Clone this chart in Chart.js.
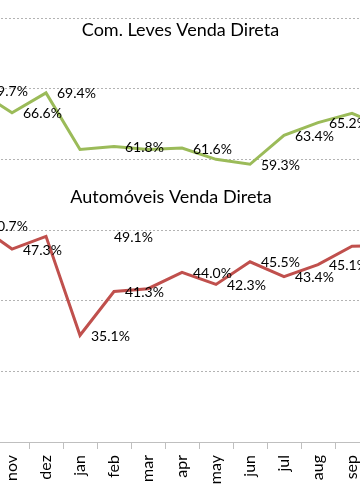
<!DOCTYPE html>
<html>
<head>
<meta charset="utf-8">
<script src="https://cdn.jsdelivr.net/npm/chart.js@4"></script>
<style>
  html, body { margin: 0; padding: 0; background: #fff; }
  #wrap { position: relative; width: 360px; height: 504px; overflow: hidden; }
  #c { position: absolute; left: -39px; top: 0; }
</style>
</head>
<body>
<div id="wrap"><canvas id="c" width="442" height="504"></canvas></div>
<script>
// ---- data ----
const months = ['oct', 'nov', 'dez', 'jan', 'feb', 'mar', 'apr', 'may', 'jun', 'jul', 'aug', 'sep', 'oct'];
const comLevesVendaDireta = [69.7, 66.6, 69.4, 61.4, 61.8, 61.4, 61.6, 60.0, 59.3, 63.4, 65.2, 66.5, 64.5];
const automoveisVendaDireta = [50.7, 47.3, 49.1, 35.1, 41.3, 41.7, 44.0, 42.3, 45.5, 43.4, 45.1, 47.7, 47.8];
const yTicks = [20, 30, 40, 50, 60, 70, 80];
const seriesTitles = ['Com. Leves Venda Direta', 'Automóveis Venda Direta'];
// labels shown in the picture (indexes)
const shownLabels = [
  [0, 1, 2, 4, 6, 8, 9, 10],
  [0, 1, 2, 3, 4, 6, 7, 8, 9, 10]
];

const CANVAS_SHIFT = 39;

const labelPlugin = {
  id: 'pointLabels',
  afterDatasetsDraw(chart) {
    const ctx = chart.ctx;
    ctx.save();
    ctx.font = '14px Lato';
    ctx.fillStyle = '#000';
    ctx.textAlign = 'left';
    ctx.textBaseline = 'middle';
    chart.data.datasets.forEach((ds, di) => {
      const meta = chart.getDatasetMeta(di);
      meta.data.forEach((pt, i) => {
        if (!shownLabels[di].includes(i)) return;
        let dx = 11, dy = 1;
        if (di === 1 && i === 2) { dx = 68; dy = 1; }
        ctx.fillText(ds.data[i].toFixed(1) + '%', pt.x + dx, pt.y + dy);
      });
    });
    // titles
    ctx.font = '18px Lato';
    ctx.textAlign = 'center';
    ctx.textBaseline = 'alphabetic';
    ctx.fillText(seriesTitles[0], 180.5 + CANVAS_SHIFT, 36);
    ctx.fillText(seriesTitles[1], 171 + CANVAS_SHIFT, 203);
    ctx.restore();
  }
};

new Chart(document.getElementById('c'), {
  type: 'line',
  data: {
    labels: months,
    datasets: [
      { label: seriesTitles[0], data: comLevesVendaDireta, borderColor: '#9BBB59', borderWidth: 3, pointRadius: 0, tension: 0, fill: false },
      { label: seriesTitles[1], data: automoveisVendaDireta, borderColor: '#C0504D', borderWidth: 3, pointRadius: 0, tension: 0, fill: false }
    ]
  },
  options: {
    responsive: false,
    animation: false,
    devicePixelRatio: 1,
    layout: { padding: { top: 18, left: 0, right: 0, bottom: 0 } },
    plugins: { legend: { display: false }, tooltip: { enabled: false }, title: { display: false } },
    scales: {
      x: {
        offset: true,
        grid: { offset: true, drawOnChartArea: false, drawTicks: true, tickLength: 7, color: '#bfbfbf' },
        border: { display: true, color: '#bfbfbf', width: 1 },
        ticks: { minRotation: 90, maxRotation: 90, autoSkip: false, padding: 6, color: '#000', font: { family: 'Lato', size: 16 } },
        afterFit(s) { s.paddingLeft = 0; s.paddingRight = 0; s.height = 62; }
      },
      y: {
        min: 20, max: 80,
        afterBuildTicks(s) { s.ticks = yTicks.map(v => ({ value: v })); },
        ticks: { display: false },
        grid: { drawTicks: false, color: (c) => c.tick && c.tick.value === 20 ? 'rgba(0,0,0,0)' : '#b3b3b3', lineWidth: 1 },
        border: { display: false, dash: [2, 2] },
        afterFit(s) { s.width = 0; s.paddingTop = 0; s.paddingBottom = 0; }
      }
    }
  },
  plugins: [labelPlugin]
});
</script>
</body>
</html>
